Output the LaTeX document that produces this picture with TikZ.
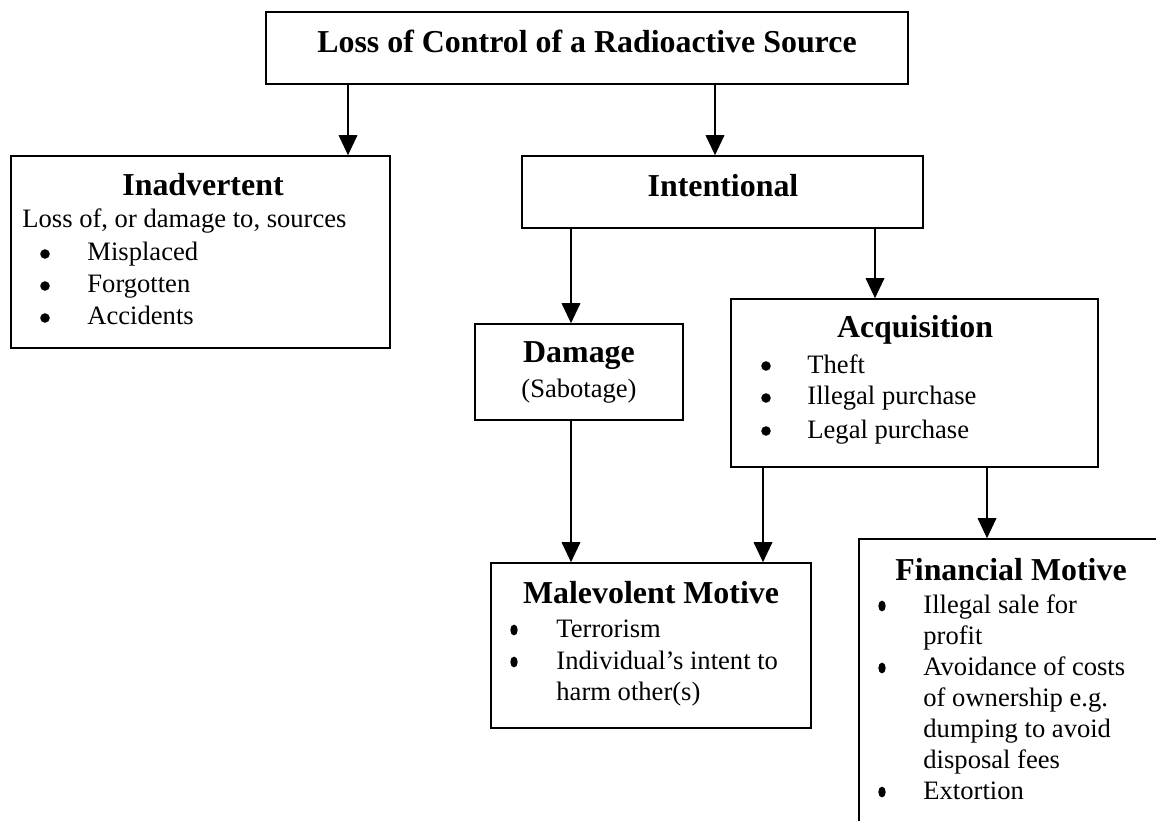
\documentclass[tikz,border=0pt]{standalone}
\usepackage{fontspec}
\setmainfont{Liberation Serif}
\usetikzlibrary{fit,arrows.meta,shapes.geometric}
\begin{document}
\begin{tikzpicture}[x=0.4608pt,y=-0.4608pt,
  box/.style={draw, line width=0.75pt, inner sep=0pt},
  arr/.style={line width=0.55pt, -{Triangle[length=9.2pt,width=8.6pt]}},
  ttl/.style={font=\fontsize{14.7}{17}\selectfont\bfseries, inner sep=0pt, anchor=base},
  txt/.style={font=\fontsize{12.25}{15}\selectfont, inner sep=0pt, anchor=base west},
  sub/.style={font=\fontsize{12.25}{15}\selectfont, inner sep=0pt, anchor=base},
  rbul/.style={circle, fill, inner sep=0pt, minimum size=4.4pt},
  nbul/.style={ellipse, fill, inner sep=0pt, minimum width=3.4pt, minimum height=5pt}]
\useasboundingbox (0,0) rectangle (1156,821);
\clip (0,0) rectangle (1156,821);
% boxes
\node[box, fit={(266,12) (908,84)}] (top) {};
\node[box, fit={(11,156) (390,348)}] (inad) {};
\node[box, fit={(522,156) (923,228)}] (inten) {};
\node[box, fit={(475,324) (683,420)}] (dam) {};
\node[box, fit={(731,299) (1098,467)}] (acq) {};
\node[box, fit={(491,563) (811,728)}] (mal) {};
\node[box, fit={(859,539) (1163,840)}] (fin) {};
% texts
\node[ttl] (toptxt) at (587,53) {Loss of Control of a Radioactive Source};
\node[ttl] (inadt) at (203,196) {Inadvertent};
\node[txt] (inad0) at (22,228) {Loss of, or damage to, sources};
\node[rbul] (inadb1) at (45,254) {};
\node[txt] (inad1) at (87,261) {Misplaced};
\node[rbul] (inadb2) at (45,286) {};
\node[txt] (inad2) at (87,293) {Forgotten};
\node[rbul] (inadb3) at (45,318) {};
\node[txt] (inad3) at (87,325) {Accidents};
\node[ttl] (intent) at (723,197) {Intentional};
\node[ttl] (damt) at (579,363) {Damage};
\node[sub] (dams) at (579,397) {(Sabotage)};
\node[ttl] (acqt) at (915,338) {Acquisition};
\node[rbul] (acqb1) at (766,366) {};
\node[txt] (acq1) at (807,373) {Theft};
\node[rbul] (acqb2) at (766,398) {};
\node[txt] (acq2) at (807,405) {Illegal purchase};
\node[rbul] (acqb3) at (766,431) {};
\node[txt] (acq3) at (807,438) {Legal purchase};
\node[ttl] (malt) at (651,603) {Malevolent Motive};
\node[nbul] (malb1) at (514,630) {};
\node[txt] (mal1) at (556,637) {Terrorism};
\node[nbul] (malb2) at (514,662) {};
\node[txt] (mal2) at (556,669) {Individual’s intent to};
\node[txt] (mal3) at (556,700) {harm other(s)};
\node[ttl] (fint) at (1011,580) {Financial Motive};
\node[nbul] (finb1) at (882,606) {};
\node[txt] (fin1) at (923,613) {Illegal sale for};
\node[txt] (fin2) at (923,644) {profit};
\node[nbul] (finb2) at (882,668) {};
\node[txt] (fin3) at (923,675) {Avoidance of costs};
\node[txt] (fin4) at (923,706) {of ownership e.g.};
\node[txt] (fin5) at (923,737) {dumping to avoid};
\node[txt] (fin6) at (923,768) {disposal fees};
\node[nbul] (finb3) at (882,792) {};
\node[txt] (fin7) at (923,799) {Extortion};
% connector columns
\coordinate (c1) at (348,0);
\coordinate (c2) at (715,0);
\coordinate (c3) at (571,0);
\coordinate (c4) at (875,0);
\coordinate (c5) at (763,0);
\coordinate (c6) at (987,0);
\draw[arr] (top.south -| c1) -- (inad.north -| c1);
\draw[arr] (top.south -| c2) -- (inten.north -| c2);
\draw[arr] (inten.south -| c3) -- (dam.north -| c3);
\draw[arr] (inten.south -| c4) -- (acq.north -| c4);
\draw[arr] (dam.south -| c3) -- (mal.north -| c3);
\draw[arr] (acq.south -| c5) -- (mal.north -| c5);
\draw[arr] (acq.south -| c6) -- (fin.north -| c6);
\end{tikzpicture}
\end{document}
